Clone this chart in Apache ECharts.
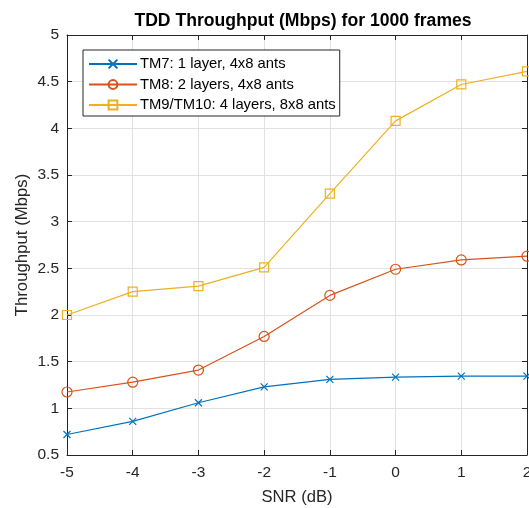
<!DOCTYPE html>
<html><head><meta charset="utf-8">
<script src="https://cdn.jsdelivr.net/npm/echarts@6/dist/echarts.min.js"></script>
<style>html,body{margin:0;padding:0;background:#fff}#c{width:529px;height:508px}</style>
</head><body><div id="c"></div>
<script>
const snr = [-5, -4, -3, -2, -1, 0, 1, 2];
const tm7 = [0.72, 0.86, 1.06, 1.23, 1.31, 1.335, 1.345, 1.345];
const tm8 = [1.175, 1.28, 1.41, 1.77, 2.21, 2.49, 2.59, 2.63];
const tm9 = [2.0, 2.25, 2.31, 2.51, 3.30, 4.08, 4.47, 4.61];
const names = ['TM7: 1 layer, 4x8 ants', 'TM8: 2 layers, 4x8 ants', 'TM9/TM10: 4 layers, 8x8 ants'];
const colors = ['#0072BD', '#D95319', '#EDB120'];
const xPath = 'path://M0,0L10,10M10,0L0,10';
const symbols = [xPath, 'circle', 'rect'];
const symSizes = [7, 10, 9];
const font = 'Liberation Sans, Arial, sans-serif';
const txt = '#262626';
const chart = echarts.init(document.getElementById('c'));
const allData = [tm7, tm8, tm9];
const lineCol = '#262626';
function boxAxis(extra) {
  return Object.assign({
    axisLine: {show: true, onZero: false, lineStyle: {color: lineCol, width: 1}},
    axisTick: {show: true, inside: true, length: 5, lineStyle: {color: lineCol}},
    axisLabel: {show: false}, splitLine: {show: false}
  }, extra);
}
chart.setOption({
  animation: false,
  backgroundColor: '#fff',
  title: {text: 'TDD Throughput (Mbps) for 1000 frames', left: 298, textAlign: 'center', top: 7,
    textStyle: {fontSize: 17.6, fontWeight: 'bold', color: '#000', fontFamily: font}},
  grid: {left: 67, right: 2, top: 35, bottom: 53, outerBoundsMode: 'none', containLabel: false},
  legend: {
    orient: 'vertical', left: 83, top: 50, padding: [6, 4, 3, 5],
    backgroundColor: '#fff', borderColor: lineCol, borderWidth: 1,
    itemWidth: 48, itemHeight: 11, itemGap: 4.5,
    textStyle: {fontSize: 14.8, lineHeight: 16, color: '#000', fontFamily: font, padding: [0, 0, 0, -2]},
    data: names
  },
  xAxis: [
    {type: 'value', min: -5, max: 2, interval: 1, position: 'bottom',
      name: 'SNR (dB)', nameLocation: 'middle', nameGap: 34, nameMoveOverlap: false,
      nameTextStyle: {color: txt, fontSize: 16.6, fontFamily: font},
      axisLine: {show: true, onZero: false, lineStyle: {color: lineCol, width: 1}},
      axisTick: {show: true, inside: true, length: 5, lineStyle: {color: lineCol}},
      splitLine: {show: true, lineStyle: {color: '#e2e2e2', width: 1}},
      axisLabel: {color: txt, fontSize: 15.5, fontFamily: font, margin: 10}},
    boxAxis({type: 'value', min: -5, max: 2, interval: 1, position: 'top'})
  ],
  yAxis: [
    {type: 'value', min: 0.5, max: 5, interval: 0.5, position: 'left',
      name: 'Throughput (Mbps)', nameLocation: 'middle', nameGap: 36, nameMoveOverlap: false,
      nameTextStyle: {color: txt, fontSize: 16.8, fontFamily: font},
      axisLine: {show: true, onZero: false, lineStyle: {color: lineCol, width: 1}},
      axisTick: {show: true, inside: true, length: 5, lineStyle: {color: lineCol}},
      splitLine: {show: true, lineStyle: {color: '#e2e2e2', width: 1}},
      axisLabel: {color: txt, fontSize: 15.5, fontFamily: font, margin: 8}},
    boxAxis({type: 'value', min: 0.5, max: 5, interval: 0.5, position: 'right'})
  ],
  series: names.map((n, i) => ({
    name: n, type: 'line',
    data: snr.map((x, j) => [x, allData[i][j]]),
    symbol: symbols[i], symbolSize: symSizes[i], showAllSymbol: true,
    lineStyle: {color: colors[i], width: 1.2},
    itemStyle: {color: 'none', borderColor: colors[i], borderWidth: 1.2},
    emphasis: {disabled: true}
  }))
});
</script></body></html>
